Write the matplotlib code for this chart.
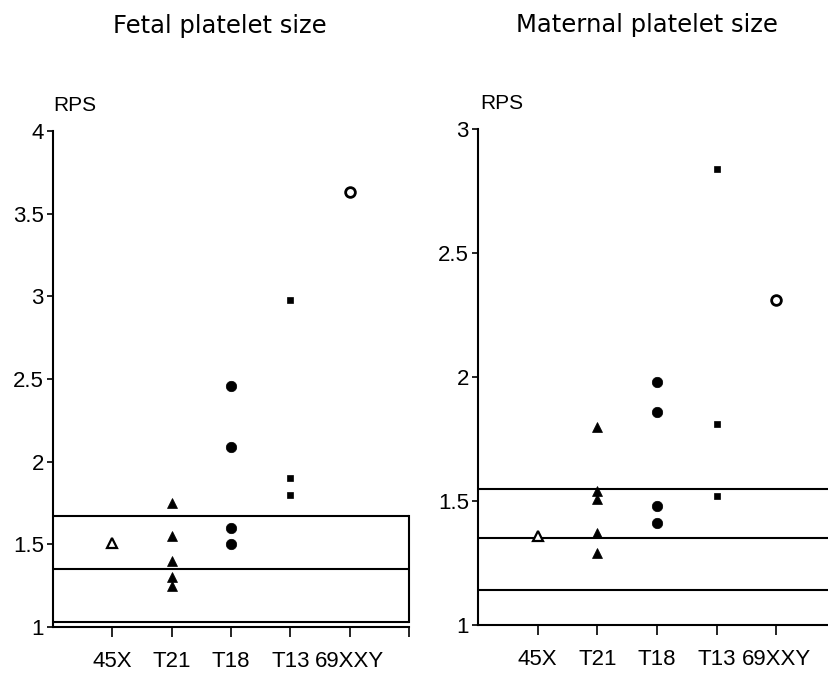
import matplotlib
matplotlib.use('Agg')
import matplotlib.pyplot as plt
from matplotlib.transforms import ScaledTranslation

plt.rcParams['font.family'] = ['Liberation Sans', 'DejaVu Sans']

categories = ['45X', 'T21', 'T18', 'T13', '69XXY']

# fetal RPS values per group
fetal_45x = [1.51]
fetal_t21 = [1.75, 1.55, 1.40, 1.30, 1.25]
fetal_t18 = [2.46, 2.09, 1.60, 1.50]
fetal_t13 = [2.98, 1.90, 1.80]
fetal_69xxy = [3.63]
fetal_lines = [1.03, 1.35, 1.67]

# maternal RPS values per group
maternal_45x = [1.36]
maternal_t21 = [1.80, 1.54, 1.51, 1.37, 1.29]
maternal_t18 = [1.98, 1.86, 1.48, 1.41]
maternal_t13 = [2.84, 1.81, 1.52]
maternal_69xxy = [2.31]
maternal_lines = [1.14, 1.35, 1.55]

styles = [
    dict(marker='^', ms=7, mfc='white', mec='black', mew=1.6),
    dict(marker='^', ms=7.5, mfc='black', mec='black', mew=0.5),
    dict(marker='o', ms=7.5, mfc='black', mec='black', mew=0.5),
    dict(marker='s', ms=5, mfc='black', mec='black', mew=0.5),
    dict(marker='o', ms=7, mfc='white', mec='black', mew=2.0),
]

fig = plt.figure(figsize=(8.29, 6.75), dpi=100)


def draw_panel(ax, groups, ylim, yticks, xmax, ticks_x):
    for i, vals in enumerate(groups):
        ax.plot([i + 1] * len(vals), vals, linestyle='none', **styles[i], zorder=3)
    ax.set_xlim(0, xmax)
    ax.set_ylim(*ylim)
    ax.set_yticks(yticks)
    ax.set_yticklabels([f'{t:g}' for t in yticks], fontsize=16)
    ax.set_xticks(ticks_x)
    ax.set_xticklabels(categories + [''] * (len(ticks_x) - len(categories)), fontsize=16)
    # the last group label sits a little right of its tick
    lab = ax.get_xticklabels()[4]
    lab.set_transform(lab.get_transform() + ScaledTranslation(9 / 100, 0, fig.dpi_scale_trans))
    for s in ['top', 'right']:
        ax.spines[s].set_visible(False)
    for s in ['left', 'bottom']:
        ax.spines[s].set_linewidth(1.5)
    ax.tick_params(axis='y', direction='out', length=4.5, width=1.2, pad=2)
    ax.tick_params(axis='x', direction='out', length=7, width=1.2, pad=10)


ax1 = fig.add_axes([0.0639, 0.0711, 0.4294, 0.7348])
draw_panel(ax1, [fetal_45x, fetal_t21, fetal_t18, fetal_t13, fetal_69xxy],
           (1, 4), [1, 1.5, 2, 2.5, 3, 3.5, 4], 6, [1, 2, 3, 4, 5, 6])
for v in fetal_lines:
    ax1.axhline(v, color='black', lw=1.5, zorder=2)
ax1.plot([6, 6], [fetal_lines[0], fetal_lines[-1]], color='black', lw=1.5, clip_on=False)

ax2 = fig.add_axes([478 / 829, 0.0741, 351 / 829, 0.7348])
draw_panel(ax2, [maternal_45x, maternal_t21, maternal_t18, maternal_t13, maternal_69xxy],
           (1, 3), [1, 1.5, 2, 2.5, 3], 5.88, [1, 2, 3, 4, 5])
for v in maternal_lines:
    ax2.axhline(v, color='black', lw=1.5, zorder=2)

fig.text(220 / 829, 1 - 33 / 675, 'Fetal platelet size', fontsize=17.5,
         family='DejaVu Sans', ha='center', va='baseline')
fig.text(647 / 829, 1 - 32 / 675, 'Maternal platelet size', fontsize=17.5,
         family='DejaVu Sans', ha='center', va='baseline')
fig.text(53 / 829, 1 - 111 / 675, 'RPS', fontsize=15, ha='left', va='baseline')
fig.text(480 / 829, 1 - 109 / 675, 'RPS', fontsize=15, ha='left', va='baseline')

fig.savefig('out.png', dpi=100)
